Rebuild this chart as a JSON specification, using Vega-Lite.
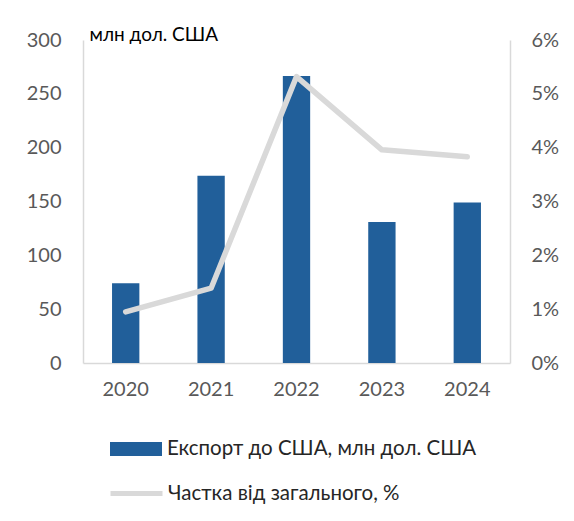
{
  "$schema": "https://vega.github.io/schema/vega-lite/v6.json",
  "autosize": "none",
  "width": 427,
  "height": 323,
  "padding": {"left": 83, "top": 40, "right": 64, "bottom": 158},
  "background": "white",
  "config": {
    "view": {"stroke": null},
    "font": "Lato",
    "axis": {"labelFont": "Lato", "titleFont": "Lato", "grid": false, "ticks": false, "domainColor": "#d9d9d9", "domainWidth": 1.5, "labelColor": "#595959", "labelFontSize": 20},
    "legend": {"labelFont": "Lato", "labelFontSize": 20.5, "labelColor": "#262626", "padding": 0, "labelLimit": 0}
  },
  "data": {"values": [
    {"year": "2020", "export": 74, "share": 0.95},
    {"year": "2021", "export": 174, "share": 1.39},
    {"year": "2022", "export": 266.5, "share": 5.32},
    {"year": "2023", "export": 131, "share": 3.96},
    {"year": "2024", "export": 149, "share": 3.83}
  ]},
  "encoding": {
    "x": {"field": "year", "type": "nominal", "scale": {"paddingInner": 0.68, "paddingOuter": 0.34},
      "axis": {"title": null, "labelAngle": 0, "labelPadding": 16}}
  },
  "layer": [
    {
      "mark": {"type": "bar", "color": "#215f9a"},
      "encoding": {
        "y": {"field": "export", "type": "quantitative", "scale": {"domain": [0, 300]},
          "axis": {"values": [0, 50, 100, 150, 200, 250, 300], "labelPadding": 22, "title": "млн дол. США", "titleAngle": 0, "titleAlign": "left", "titleBaseline": "alphabetic", "titleX": 6, "titleY": 0, "titleFontSize": 19, "titleFontWeight": "normal", "titleColor": "#000000"}},
        "fill": {"datum": "Експорт до США, млн дол. США", "scale": {"range": ["#215f9a"]},
          "legend": {"title": null, "orient": "none", "legendX": 27, "legendY": 383, "symbolType": "M-1,-0.27H1V0.27H-1Z", "symbolSize": 2704, "symbolStrokeWidth": 0, "labelOffset": 5}}
      }
    },
    {
      "mark": {"type": "line", "strokeWidth": 5.5, "strokeCap": "round", "strokeJoin": "round"},
      "encoding": {
        "y": {"field": "share", "type": "quantitative", "scale": {"domain": [0, 6]},
          "axis": {"orient": "right", "values": [0, 1, 2, 3, 4, 5, 6], "labelExpr": "datum.value + '%'", "labelPadding": 21, "title": null}},
        "stroke": {"datum": "Частка від загального, %", "scale": {"range": ["#d9d9d9"]},
          "legend": {"title": null, "orient": "none", "legendX": 25, "legendY": 425, "symbolType": "stroke", "symbolSize": 2704, "symbolStrokeWidth": 5, "labelOffset": 3}}
      }
    }
  ],
  "resolve": {"scale": {"y": "independent"}}
}
